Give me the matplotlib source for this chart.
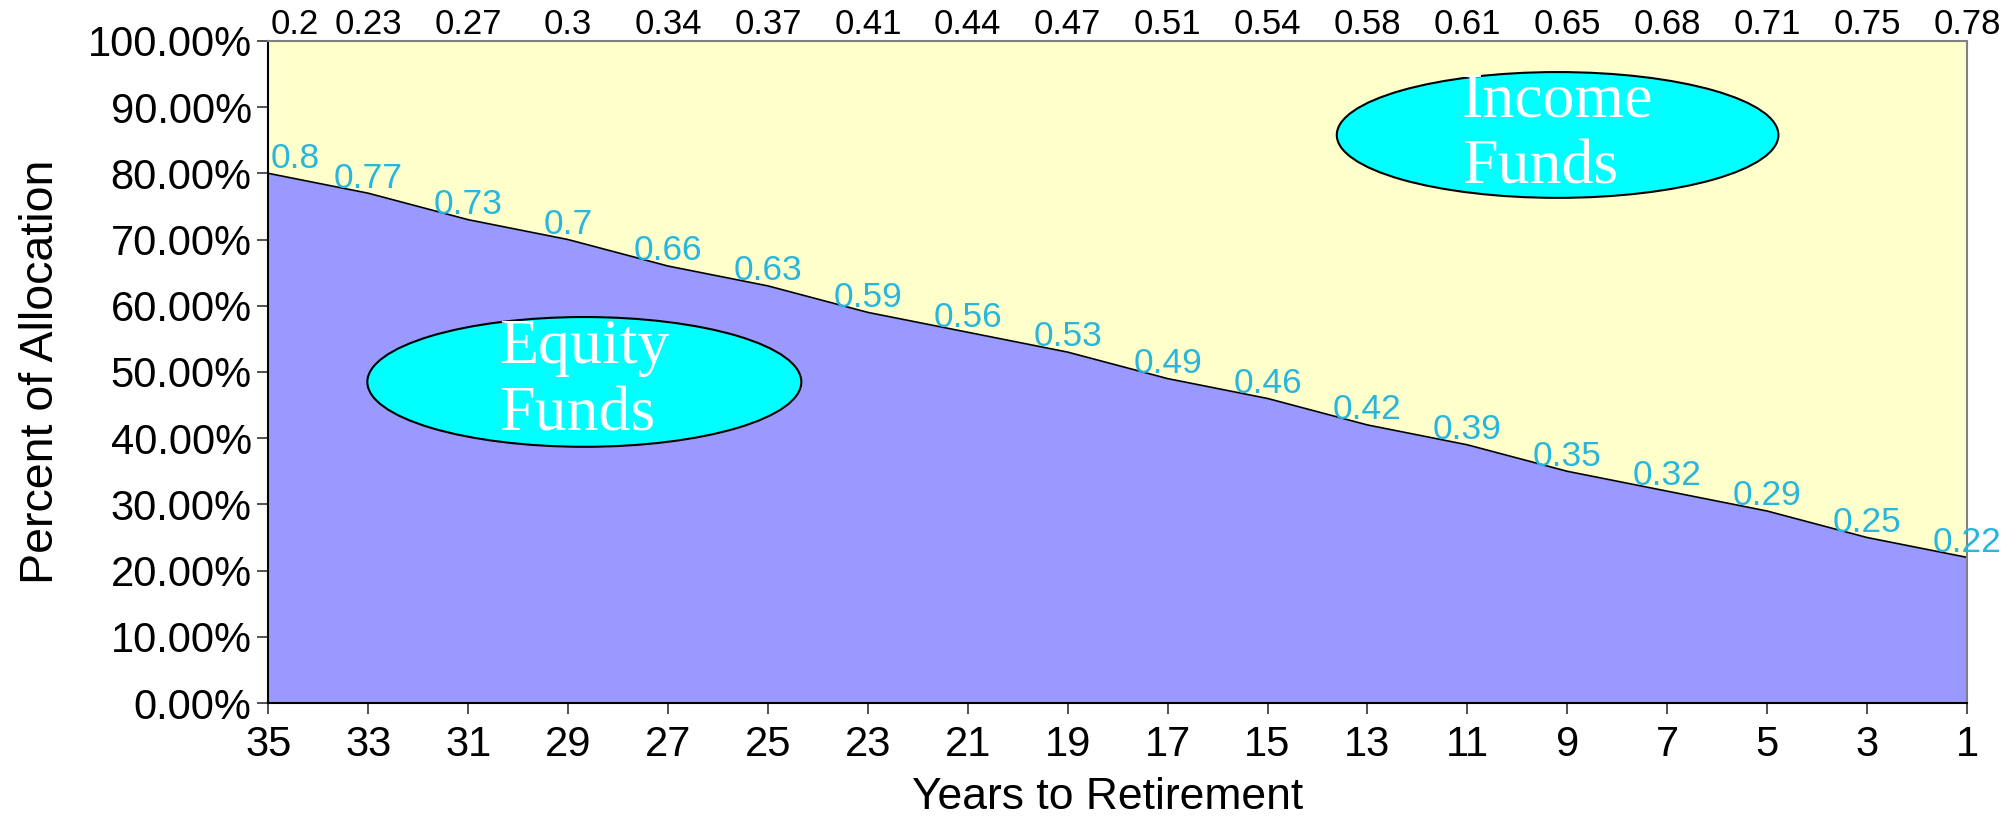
import numpy as np
import matplotlib
matplotlib.use("Agg")
import matplotlib.pyplot as plt
from matplotlib.patches import Ellipse
from matplotlib.ticker import PercentFormatter

# glide path: share of equity vs income funds by years to retirement
years = [35, 33, 31, 29, 27, 25, 23, 21, 19, 17, 15, 13, 11, 9, 7, 5, 3, 1]
equity = [0.8, 0.77, 0.73, 0.7, 0.66, 0.63, 0.59, 0.56, 0.53, 0.49,
          0.46, 0.42, 0.39, 0.35, 0.32, 0.29, 0.25, 0.22]
income = [0.2, 0.23, 0.27, 0.3, 0.34, 0.37, 0.41, 0.44, 0.47, 0.51,
          0.54, 0.58, 0.61, 0.65, 0.68, 0.71, 0.75, 0.78]
y_ticks = [0.0, 0.1, 0.2, 0.3, 0.4, 0.5, 0.6, 0.7, 0.8, 0.9, 1.0]

narrow = ['Liberation Sans Narrow', 'Liberation Sans', 'DejaVu Sans']
regular = ['Liberation Sans', 'DejaVu Sans']
serif = ['Liberation Serif', 'DejaVu Serif']

fig = plt.figure(figsize=(20.03, 8.19), dpi=100)
ax = fig.add_axes([0.134, 0.1416, 0.848, 0.8084])

x = np.array(years)
eq = np.array(equity)
inc = np.array(income)

ax.fill_between(x, 0, eq, color='#9999FF', linewidth=0)
ax.fill_between(x, eq, eq + inc, color='#FFFFCC', linewidth=0)
ax.plot(x, eq, color='black', linewidth=1.2)

ax.set_xlim(max(years), min(years))
ax.set_ylim(0, 1)
ax.set_xticks(years)
ax.set_yticks(y_ticks)
ax.yaxis.set_major_formatter(PercentFormatter(1.0, decimals=2))

for lab in ax.get_xticklabels() + ax.get_yticklabels():
    lab.set_family(narrow)
    lab.set_fontsize(30)
ax.tick_params(axis='both', direction='out', length=8, width=1.2, color='#333333')
ax.tick_params(axis='x', pad=8)
ax.tick_params(axis='y', pad=4)

ax.spines['left'].set_color('black')
ax.spines['bottom'].set_color('black')
ax.spines['top'].set_color('#808080')
ax.spines['right'].set_color('#808080')
for s in ax.spines.values():
    s.set_linewidth(1.5)

ax.set_xlabel('Years to Retirement', family=regular, fontsize=32)
ax.xaxis.set_label_coords(0.494, -0.112)
ax.set_ylabel('Percent of Allocation', family=regular, fontsize=33.5, labelpad=18)

# data labels: equity at top of its band, income at top of the stack
for i, (yr, e, n) in enumerate(zip(years, equity, income)):
    ha = 'left' if i == 0 else 'center'
    dx = 0.05 if i == 0 else 0.0
    ax.text(yr - dx, e - 0.002, f'{e:g}', ha=ha, va='bottom',
            color='#29B6DD', family=narrow, fontsize=25.5, clip_on=False)
    ax.text(yr - dx, e + n + 0.0, f'{n:g}', ha=ha, va='bottom',
            color='black', family=narrow, fontsize=25, clip_on=False)

# callout bubbles
for cx, cy, w, h, label in [(0.186, 0.485, 0.2555, 0.196, 'Equity\nFunds'),
                            (0.759, 0.858, 0.26, 0.19, 'Income\nFunds')]:
    ax.add_patch(Ellipse((cx, cy), w, h, transform=ax.transAxes,
                         facecolor='#00FFFF', edgecolor='black', linewidth=1.5))
    ax.text(cx, cy, label, transform=ax.transAxes, ha='center', va='center',
            multialignment='left', color='white', family=serif,
            fontsize=46, linespacing=1.22)

fig.savefig('out.png', dpi=100)
